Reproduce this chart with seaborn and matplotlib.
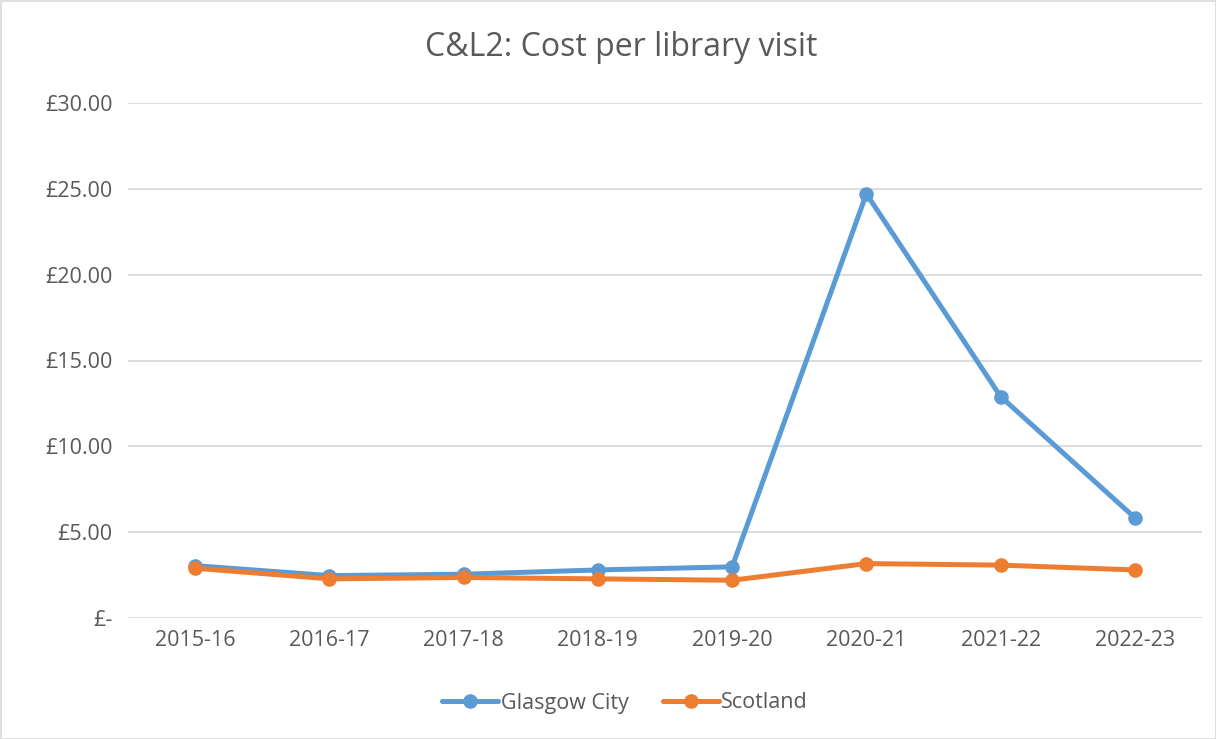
import matplotlib
matplotlib.use("Agg")
import matplotlib.pyplot as plt
import seaborn as sns
import pandas as pd
from matplotlib.patches import Rectangle
from matplotlib.lines import Line2D

years = ["2015-16", "2016-17", "2017-18", "2018-19", "2019-20", "2020-21", "2021-22", "2022-23"]
glasgow = [3.05, 2.47, 2.55, 2.80, 2.98, 24.71, 12.90, 5.84]
scotland = [2.90, 2.28, 2.36, 2.28, 2.20, 3.17, 3.08, 2.80]
series_names = ["Glasgow City", "Scotland"]
y_ticks = [0, 5, 10, 15, 20, 25, 30]
y_tick_labels = ["£-", "£5.00", "£10.00", "£15.00", "£20.00", "£25.00", "£30.00"]

df = pd.DataFrame({
    "year": years * 2,
    "cost": glasgow + scotland,
    "area": [series_names[0]] * len(years) + [series_names[1]] * len(years),
})

sns.set_style("white")
plt.rcParams["font.family"] = ["Open Sans", "DejaVu Sans"]

text_col = "#595959"
grid_col = "#D9D9D9"
palette = {"Glasgow City": "#5B9BD5", "Scotland": "#ED7D31"}
lw = 3.6
ms = 10.5

fig = plt.figure(figsize=(12.16, 7.39), dpi=100)
ax = fig.add_axes([128 / 1216, 1 - 618 / 739, (1202 - 128) / 1216, (618 - 103) / 739])

sns.lineplot(data=df, x="year", y="cost", hue="area", palette=palette,
             marker="o", markersize=ms, markeredgewidth=0, linewidth=lw,
             sort=False, ax=ax, legend=False)

ax.set_xlim(-0.5, len(years) - 0.5)
ax.set_ylim(0, 30)
ax.set_yticks(y_ticks)
ax.set_yticklabels(y_tick_labels)
ax.set_xticks(range(len(years)))
ax.set_xticklabels(years)
ax.set_xlabel("")
ax.set_ylabel("")
ax.tick_params(axis="both", length=0, labelsize=15.5, labelcolor=text_col)
ax.tick_params(axis="y", pad=11)
ax.tick_params(axis="x", pad=9)
ax.yaxis.grid(True, color=grid_col, linewidth=1.3)
ax.set_axisbelow(True)
for s in ax.spines.values():
    s.set_visible(False)

fig.text(621 / 1216, 1 - 47 / 739, "C&L2: Cost per library visit", ha="center", va="center",
         fontsize=23, color=text_col)

handles = [Line2D([0], [0], color=palette[n], linewidth=lw, marker="o", markersize=ms,
                  markeredgewidth=0) for n in series_names]
fig.legend(handles, series_names, loc="center", bbox_to_anchor=(625 / 1216, 1 - 703 / 739),
           ncol=2, frameon=False, fontsize=15.5, labelcolor=text_col, handlelength=2.6,
           handletextpad=0.1, columnspacing=1.6)

fig.patches.append(Rectangle((0.5 / 1216, 0.5 / 739), 1 - 1 / 1216, 1 - 1 / 739,
                             transform=fig.transFigure, fill=False, edgecolor=grid_col,
                             linewidth=1.2))

fig.savefig("out.png", dpi=100)
